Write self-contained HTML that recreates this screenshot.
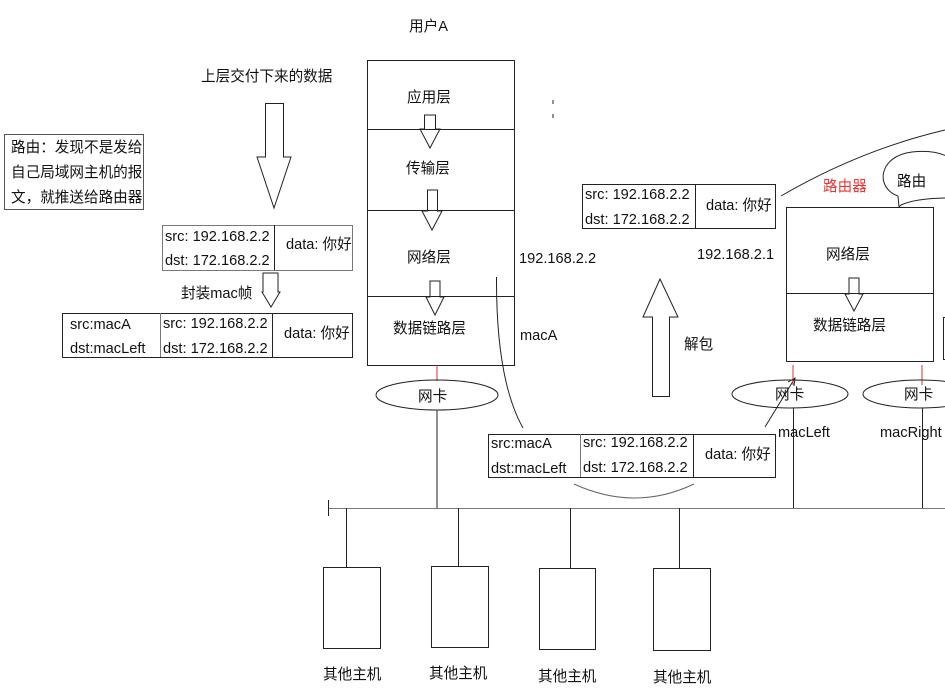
<!DOCTYPE html>
<html><head><meta charset="utf-8"><style>
body{margin:0;background:#fff}
svg{display:block}
text{font-family:"Liberation Sans","Noto Sans CJK SC",sans-serif;font-size:14.6px;fill:#111}
</style></head><body>
<svg width="945" height="690" viewBox="0 0 945 690" xmlns="http://www.w3.org/2000/svg">
<g fill="none" stroke="#222" stroke-width="1">
<rect x="367.5" y="60.5" width="147" height="305"/>
<line x1="367" y1="129.5" x2="514" y2="129.5"/>
<line x1="367" y1="210.5" x2="514" y2="210.5"/>
<line x1="367" y1="296.5" x2="514" y2="296.5"/>
<path d="M424.5 115 H435.5 V129 H440 L430 148 L420 129 H424.5 Z"/>
<path d="M427.5 190 H437.5 V211 H442 L432 230 L422 211 H427.5 Z"/>
<path d="M430 281 H440 V297 H444 L435 315 L426 297 H430 Z"/>
<line x1="437" y1="365" x2="437" y2="381" stroke="#d33"/>
<ellipse cx="437" cy="395" rx="61" ry="15"/>
<line x1="437" y1="410" x2="437" y2="508"/>
<line x1="328" y1="508.5" x2="945" y2="508.5" stroke="#777"/>
<line x1="328.5" y1="500" x2="328.5" y2="516"/>
<line x1="346.5" y1="508" x2="346.5" y2="567"/>
<line x1="458.5" y1="508" x2="458.5" y2="566"/>
<line x1="570.5" y1="508" x2="570.5" y2="568"/>
<line x1="679.5" y1="508" x2="679.5" y2="568"/>
<rect x="323.5" y="567.5" width="57" height="81"/>
<rect x="431.5" y="566.5" width="57" height="81"/>
<rect x="539.5" y="568.5" width="56" height="81"/>
<rect x="653.5" y="568.5" width="57" height="82"/>
<path d="M265.5 103.5 H283.5 V157 H291 L274 208 L257 157 H265.5 Z"/>
<path d="M263 273 H278 V292 H280 L271 307 L262 292 H263 Z"/>
<path d="M652.5 396.5 H669.5 V317 H678 L660 279 L643 317 H652.5 Z"/>
<rect x="4.5" y="134.5" width="139" height="75" stroke="#555"/>
<rect x="162.5" y="225.5" width="190" height="45" stroke="#777"/>
<line x1="274.5" y1="225" x2="274.5" y2="270"/>
<rect x="62.5" y="313.5" width="290" height="44"/>
<line x1="160.5" y1="313" x2="160.5" y2="357" stroke="#777"/>
<line x1="272.5" y1="313" x2="272.5" y2="357"/>
<rect x="582.5" y="184.5" width="193" height="44"/>
<line x1="695.5" y1="184" x2="695.5" y2="228"/>
<rect x="488.5" y="434.5" width="287" height="43"/>
<line x1="580.5" y1="434" x2="580.5" y2="477" stroke="#777"/>
<line x1="693.5" y1="434" x2="693.5" y2="477"/>
<path d="M496.5 277 Q496 380 523 428"/>
<path d="M574 484 Q635 512 694 484" stroke="#666"/>
<path d="M781 196 Q860 150 945 130"/>
<path d="M765 427 L795 378 M788 382 L795 378 L794 386"/>
<rect x="786.5" y="207.5" width="147" height="154"/>
<line x1="786" y1="293.5" x2="933" y2="293.5"/>
<path d="M849 278 H859 V294 H863 L854 311 L845 294 H849 Z"/>
<line x1="793" y1="365" x2="793" y2="385" stroke="#d33"/>
<line x1="922" y1="365" x2="922" y2="385" stroke="#d33"/>
<ellipse cx="790" cy="394" rx="58" ry="14"/>
<ellipse cx="920" cy="394" rx="57" ry="14"/>
<line x1="793.5" y1="408" x2="793.5" y2="508"/>
<line x1="922.5" y1="408" x2="922.5" y2="508"/>
<rect x="943.5" y="317.5" width="5" height="42"/>
<path d="M898 196 C875 188 878 156 912 152 C930 150 942 153 950 158 M950 198 C930 198 912 200 901 205 L899 207 L898 196"/>
<line x1="553" y1="100" x2="553" y2="104"/>
<line x1="553" y1="114" x2="553" y2="118"/>
</g>
<text x="409" y="31">用户A</text>
<text x="201" y="81">上层交付下来的数据</text>
<text x="407" y="102">应用层</text>
<text x="406" y="173">传输层</text>
<text x="407" y="262">网络层</text>
<text x="393" y="333">数据链路层</text>
<text x="418" y="401">网卡</text>
<text x="519" y="263">192.168.2.2</text>
<text x="520" y="340">macA</text>
<text x="11" y="152">路由：发现不是发给</text>
<text x="11" y="177">自己局域网主机的报</text>
<text x="11" y="202">文，就推送给路由器</text>
<text x="165" y="241">src: 192.168.2.2</text>
<text x="165" y="265">dst: 172.168.2.2</text>
<text x="286" y="249">data: 你好</text>
<text x="181" y="298">封装mac帧</text>
<text x="70" y="329">src:macA</text>
<text x="70" y="353">dst:macLeft</text>
<text x="163" y="328">src: 192.168.2.2</text>
<text x="163" y="353">dst: 172.168.2.2</text>
<text x="284" y="338">data: 你好</text>
<text x="585" y="199">src: 192.168.2.2</text>
<text x="585" y="224">dst: 172.168.2.2</text>
<text x="706" y="210">data: 你好</text>
<text x="697" y="259">192.168.2.1</text>
<text x="684" y="349">解包</text>
<text x="491" y="448">src:macA</text>
<text x="491" y="473">dst:macLeft</text>
<text x="583" y="447">src: 192.168.2.2</text>
<text x="583" y="472">dst: 172.168.2.2</text>
<text x="705" y="459">data: 你好</text>
<text x="823" y="191" style="fill:#e33">路由器</text>
<text x="897" y="186">路由</text>
<text x="826" y="259">网络层</text>
<text x="813" y="330">数据链路层</text>
<text x="775" y="399">网卡</text>
<text x="904" y="399">网卡</text>
<text x="778" y="437">macLeft</text>
<text x="880" y="437">macRight</text>
<text x="323" y="679">其他主机</text>
<text x="429" y="678">其他主机</text>
<text x="538" y="681">其他主机</text>
<text x="653" y="682">其他主机</text>
</svg>
</body></html>
